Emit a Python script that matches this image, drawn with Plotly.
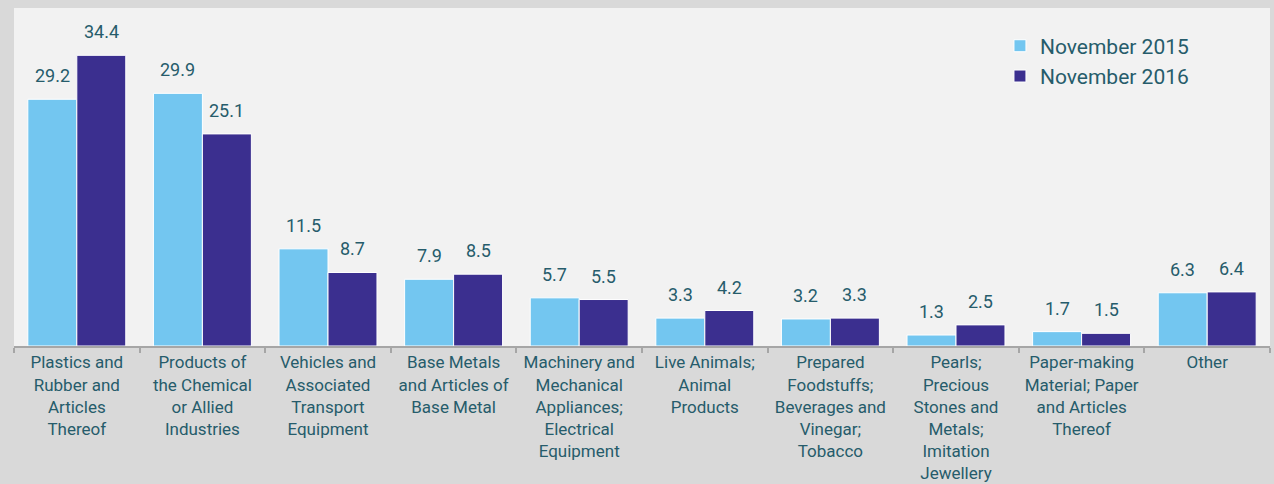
import plotly.graph_objects as go

categories = [
    "Plastics and<br>Rubber and<br>Articles<br>Thereof",
    "Products of<br>the Chemical<br>or Allied<br>Industries",
    "Vehicles and<br>Associated<br>Transport<br>Equipment",
    "Base Metals<br>and Articles of<br>Base Metal",
    "Machinery and<br>Mechanical<br>Appliances;<br>Electrical<br>Equipment",
    "Live Animals;<br>Animal<br>Products",
    "Prepared<br>Foodstuffs;<br>Beverages and<br>Vinegar;<br>Tobacco",
    "Pearls;<br>Precious<br>Stones and<br>Metals;<br>Imitation<br>Jewellery",
    "Paper-making<br>Material; Paper<br>and Articles<br>Thereof",
    "Other",
]
series_names = ["November 2015", "November 2016"]
nov_2015 = [29.2, 29.9, 11.5, 7.9, 5.7, 3.3, 3.2, 1.3, 1.7, 6.3]
nov_2016 = [34.4, 25.1, 8.7, 8.5, 5.5, 4.2, 3.3, 2.5, 1.5, 6.4]

LIGHT = "#73c6f0"
DARK = "#3b2f8f"
TEXT = "#265c6b"
FONT = "Roboto"

fig = go.Figure()
fig.add_trace(go.Bar(x=categories, y=nov_2015, name=series_names[0],
                     marker=dict(color=LIGHT, line=dict(color="white", width=1))))
fig.add_trace(go.Bar(x=categories, y=nov_2016, name=series_names[1],
                     marker=dict(color=DARK, line=dict(color="white", width=1))))

annotations = []
for vals, shift in ((nov_2015, -24.5), (nov_2016, 24.5)):
    for c, v in zip(categories, vals):
        annotations.append(dict(x=c, y=v, xref="x", yref="y", text=f"{v:.1f}",
                                showarrow=False, xshift=shift, yshift=11,
                                yanchor="bottom",
                                font=dict(family=FONT, size=18, color=TEXT)))

fig.update_layout(
    width=1274, height=484,
    margin=dict(l=14, r=4, t=8, b=138, autoexpand=False),
    paper_bgcolor="#d9d9d9",
    plot_bgcolor="#f2f2f2",
    barmode="group",
    bargap=0.22,
    bargroupgap=0,
    font=dict(family=FONT, color=TEXT),
    annotations=annotations,
    legend=dict(x=0.785, y=0.948, xanchor="left", yanchor="top",
                bgcolor="rgba(0,0,0,0)", itemwidth=30,
                font=dict(family=FONT, size=21, color=TEXT),
                tracegroupgap=0),
    xaxis=dict(showline=True, linecolor="#a6a6a6", linewidth=2,
               ticks="outside", tickson="boundaries", ticklen=5,
               tickcolor="#a6a6a6", tickwidth=2, ticklabelstandoff=0,
               automargin=False,
               tickfont=dict(family=FONT, size=17, color=TEXT),
               showgrid=False, fixedrange=True),
    yaxis=dict(range=[0, 40], visible=False, showgrid=False, zeroline=False,
               automargin=False),
)

fig.write_html(
    "out.html",
    config={"displayModeBar": False},
    post_script="document.body.style.margin='0';document.body.style.background='#d9d9d9';",
)
